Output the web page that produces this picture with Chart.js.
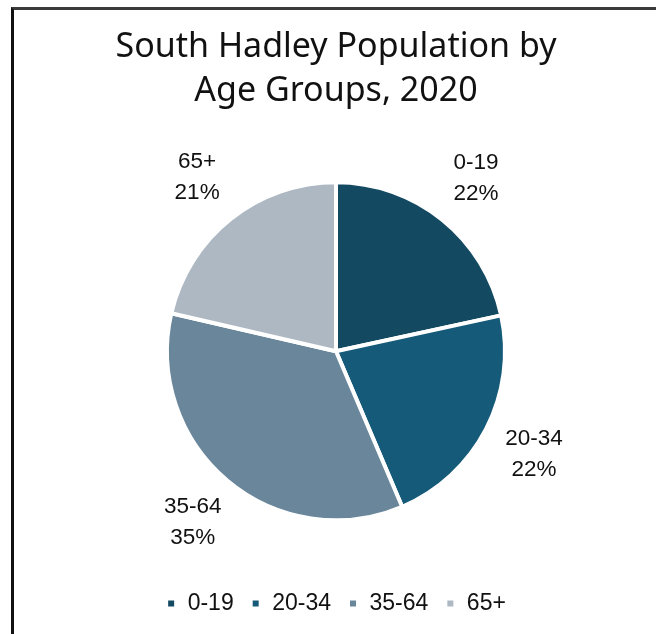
<!DOCTYPE html>
<html>
<head>
<meta charset="utf-8">
<script src="https://cdn.jsdelivr.net/npm/chart.js@4/dist/chart.umd.min.js"></script>
<style>
  html, body { margin: 0; padding: 0; background: #fff; }
  #frame {
    position: absolute; left: 11px; top: 7px; width: 700px; height: 700px;
    border-left: 3px solid #111; border-top: 3px solid #3a3a3a;
  }
  #wrap { position: absolute; left: 0; top: 0; width: 656px; height: 634px; }
</style>
</head>
<body>
<div id="frame"></div>
<div id="wrap"><canvas id="myChart"></canvas></div>
<script>
const labels = ['0-19', '20-34', '35-64', '65+'];
const shares = [21.6, 22.0, 35.0, 21.4];
const colors = ['#134961', '#155a79', '#69869b', '#adb8c3'];
const titleLines = ['South Hadley Population by', 'Age Groups, 2020'];

// draw "label / pct%" outside each slice
const outsideLabels = {
  id: 'outsideLabels',
  afterDatasetsDraw(chart) {
    const ctx = chart.ctx;
    const meta = chart.getDatasetMeta(0);
    const total = shares.reduce((a, b) => a + b, 0);
    ctx.save();
    ctx.font = '22.5px "Liberation Sans", Arial, sans-serif';
    ctx.fillStyle = '#111';
    ctx.textAlign = 'center';
    ctx.textBaseline = 'middle';
    meta.data.forEach((arc, i) => {
      const mid = (arc.startAngle + arc.endAngle) / 2;
      const r = arc.outerRadius + 54;
      const x = arc.x + Math.cos(mid) * r;
      const y = arc.y + Math.sin(mid) * r;
      const pct = Math.round(shares[i] / total * 100) + '%';
      ctx.fillText(labels[i], x, y - 15);
      ctx.fillText(pct, x, y + 16);
    });
    ctx.restore();
  }
};

const ctx = document.getElementById('myChart').getContext('2d');
new Chart(ctx, {
  type: 'pie',
  data: {
    labels: labels,
    datasets: [{
      data: shares,
      backgroundColor: colors,
      borderColor: '#ffffff',
      borderWidth: 4,
      radius: 169
    }]
  },
  options: {
    responsive: true,
    maintainAspectRatio: false,
    animation: false,
    layout: { padding: { left: 16, right: 0, top: 0, bottom: 9 } },
    plugins: {
      title: {
        display: true,
        text: titleLines,
        color: '#111',
        font: { family: '"Noto Sans", sans-serif', size: 34, weight: 'normal', lineHeight: 1.3 },
        padding: { top: 25, bottom: 14 }
      },
      legend: {
        position: 'bottom',
        labels: {
          color: '#111',
          font: { family: '"Liberation Sans", Arial, sans-serif', size: 23 },
          usePointStyle: true,
          pointStyle: 'rect',
          boxWidth: 10,
          boxHeight: 10,
          padding: 17
        }
      },
      tooltip: { enabled: false }
    }
  },
  plugins: [outsideLabels]
});
</script>
</body>
</html>
